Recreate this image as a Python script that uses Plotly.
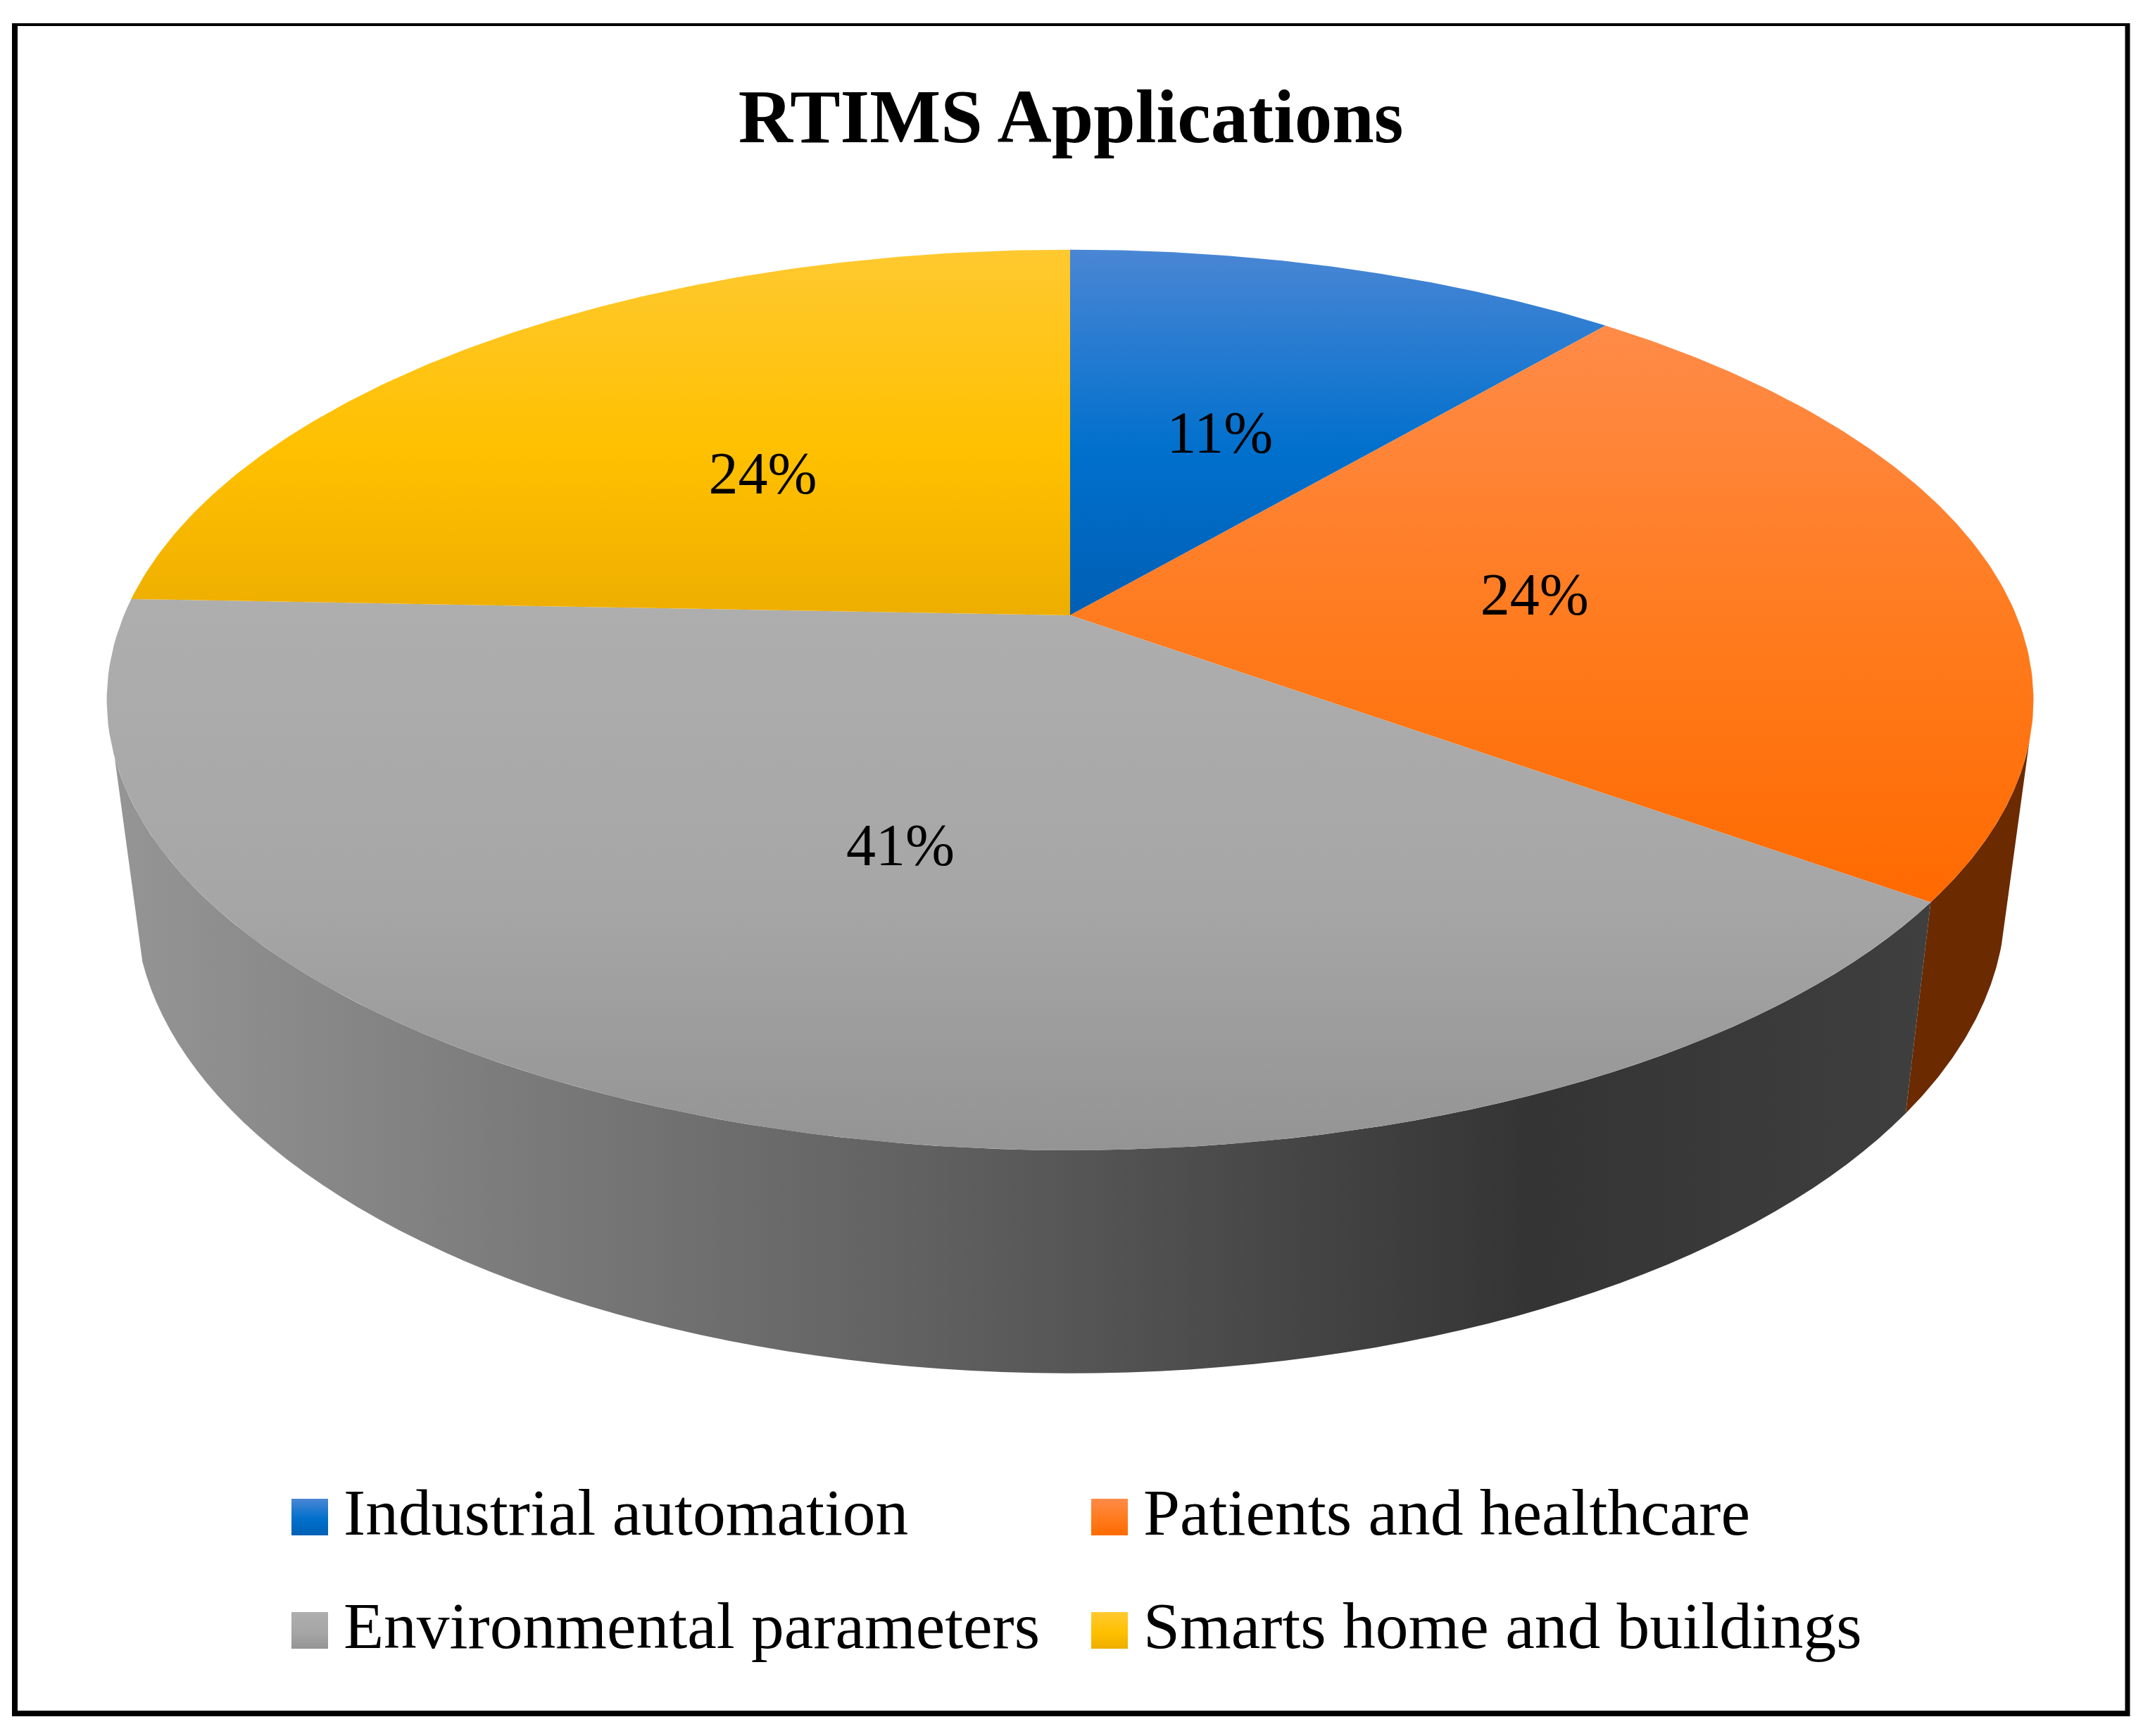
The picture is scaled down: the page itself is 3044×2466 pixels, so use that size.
import numpy as np
import plotly.graph_objects as go

categories = ["Industrial automation", "Patients and healthcare",
              "Environmental parameters", "Smarts home and buildings"]
values = [11.2, 23.8, 40.6, 24.4]
title_text = "RTIMS Applications"

# slice colours, bottom to top of each slice (y axis is flipped)
top_colors = [
    ["#005fb4", "#0070cd", "#4a86d4"],
    ["#ff6a00", "#ff7a1c", "#ff8b48"],
    ["#949494", "#a6a6a6", "#aeaeae"],
    ["#eeae00", "#ffc000", "#ffc930"],
]
orange_wall = "#6b2a00"
gray_wall_scale = [[0, "#959595"], [0.45, "#606060"], [0.78, "#343434"], [1, "#3f3f3f"]]

W, H = 3044, 2466
PAGE_MARGIN = 8  # the page body keeps its default margin
FONT = "Liberation Serif"

# perspective of the disc, in page pixels
CX = 1520
TOP_Y, TOP_A, TOP_B = 874, 1344, 617
BOT_Y, BOT_A, BOT_B = 1154, 1305, 647
K = 0.188
# where the side wall silhouette leaves the rim
WALL_RIGHT, WALL_LEFT = 106, 252


def project(t_deg, r, y0, a, b):
    t = np.radians(t_deg)
    u = r * np.sin(t)
    v = r * np.cos(t)
    d = 1 + K * v
    return CX + a * u / d, y0 - b * v / d


def top_rim(t):
    return project(t, 1.0, TOP_Y, TOP_A, TOP_B)


def bot_rim(t):
    return project(t, 1.0, BOT_Y, BOT_A, BOT_B)


def wall(t1, t2):
    ts = np.linspace(t1, t2, 80)
    x1, y1 = top_rim(ts)
    x2, y2 = bot_rim(ts[::-1])
    return np.r_[x1, x2], np.r_[y1, y2]


def gradient(cols):
    return dict(type="vertical", colorscale=[[0, cols[0]], [0.45, cols[1]], [1, cols[2]]])


edges = np.cumsum([0] + values) / sum(values) * 360

fig = go.Figure()

# side walls first, so the top face sits over them
t_split = edges[2]
x, y = wall(WALL_RIGHT, t_split)
fig.add_trace(go.Scatter(x=x, y=y, mode="lines", fill="toself", fillcolor=orange_wall,
                         line=dict(width=0), hoverinfo="skip", showlegend=False))
x, y = wall(t_split, WALL_LEFT)
fig.add_trace(go.Scatter(x=x, y=y, mode="lines", fill="toself",
                         fillgradient=dict(type="horizontal", colorscale=gray_wall_scale),
                         line=dict(width=0), hoverinfo="skip", showlegend=False))

# top face
for i, cat in enumerate(categories):
    ts = np.linspace(edges[i], edges[i + 1], 120)
    rx, ry = top_rim(ts)
    x = np.r_[CX, rx, CX]
    y = np.r_[TOP_Y, ry, TOP_Y]
    fig.add_trace(go.Scatter(x=x, y=y, mode="lines", fill="toself", name=cat,
                             fillgradient=gradient(top_colors[i]),
                             line=dict(width=0), hoverinfo="skip", showlegend=False))

# percent labels, half way along each slice
mids = (edges[:-1] + edges[1:]) / 2
lx, ly = project(mids, 0.5, TOP_Y, TOP_A, TOP_B)
fig.add_trace(go.Scatter(x=lx, y=ly + 14, mode="text",
                         text=[f"{round(v)}%" for v in values],
                         textfont=dict(family=FONT, size=84, color="black"),
                         textposition="middle center", hoverinfo="skip", showlegend=False))

# legend, two rows of two
swatch_x = [440, 1576]
swatch_y = [2155, 2316]
text_gap = 48
half = 26
for i, cat in enumerate(categories):
    sx = swatch_x[i % 2]
    sy = swatch_y[i // 2]
    fig.add_trace(go.Scatter(x=[sx - half, sx + half, sx + half, sx - half, sx - half],
                             y=[sy - half, sy - half, sy + half, sy + half, sy - half],
                             mode="lines", fill="toself", fillgradient=gradient(top_colors[i]),
                             line=dict(width=0), hoverinfo="skip", showlegend=False))
    fig.add_trace(go.Scatter(x=[sx + text_gap], y=[sy + 2], mode="text", text=[cat],
                             textposition="middle right",
                             textfont=dict(family=FONT, size=93.5, color="black"),
                             hoverinfo="skip", showlegend=False))

fig.update_layout(
    width=W, height=H,
    margin=dict(l=0, r=0, t=0, b=0),
    paper_bgcolor="white",
    plot_bgcolor="white",
    title=dict(text="<b>" + title_text + "</b>", x=(1521 - PAGE_MARGIN) / W, xanchor="center",
               y=1 - (165 - PAGE_MARGIN) / H, yanchor="middle",
               font=dict(family=FONT, size=107, color="black")),
    xaxis=dict(range=[PAGE_MARGIN, W + PAGE_MARGIN], visible=False, fixedrange=True),
    yaxis=dict(range=[H + PAGE_MARGIN, PAGE_MARGIN], visible=False, fixedrange=True),
    shapes=[
        dict(type="line", x0=21, x1=21, y0=33, y1=2438, line=dict(color="black", width=8)),
        dict(type="line", x0=3022, x1=3022, y0=33, y1=2438, line=dict(color="black", width=7)),
        dict(type="line", x0=17, x1=3025, y0=35, y1=35, line=dict(color="black", width=4)),
        dict(type="line", x0=17, x1=3025, y0=2434, y1=2434, line=dict(color="black", width=8)),
    ],
)

fig.write_html("out.html")
